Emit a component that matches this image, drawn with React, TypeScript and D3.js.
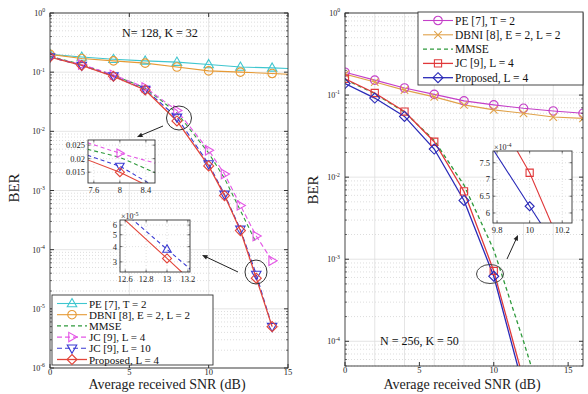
import * as d3 from "d3";

const FONT = "'Liberation Serif', 'Times New Roman', serif";

// ---------- left panel: N = 128, K = 32
const snrFlatL = [0, 2, 4, 6, 8, 10, 12, 14, 15];
const peL = [0.2, 0.18, 0.165, 0.155, 0.148, 0.135, 0.122, 0.118, 0.115];
const dbniL = [0.2, 0.17, 0.155, 0.142, 0.122, 0.105, 0.1, 0.095, 0.092];
const snrFallL = [0, 2, 4, 6, 8, 10, 11, 12, 13, 14];
const mmseL = [0.185, 0.135, 0.089, 0.054, 0.0205, 0.0043, 0.0016, 0.00046, 0.00013];
const jc4L = [0.18, 0.135, 0.09, 0.055, 0.0225, 0.0048, 0.0019, 0.00056, 0.00017, 0.000065];
const jc10L = [0.18, 0.13, 0.086, 0.051, 0.0172, 0.0028, 0.00086, 0.00022, 0.000038, 0.000005];
const propL = [0.18, 0.13, 0.085, 0.05, 0.015, 0.0026, 0.00082, 0.00021, 0.000033, 0.000005];

// zoom box around 8 dB
const snrInsA = [7.5, 8, 8.55];
const jc4InsA = [0.0259, 0.022, 0.0183];
const mmseInsA = [0.0235, 0.0205, 0.0147];
const jc10InsA = [0.0213, 0.0172, 0.0095];
const propInsA = [0.0196, 0.015, 0.0085];

// zoom box around 13 dB (x 1e-5)
const snrInsBJc = [12.6, 13, 13.25];
const jc10InsB = [7.5, 3.8, 2.5];
const snrInsBProp = [12.55, 13, 13.25];
const propInsB = [7.2, 3.2, 2.03];

// ---------- right panel: N = 256, K = 50
const snrFlatR = [0, 2, 4, 6, 8, 10, 12, 14, 16];
const peR = [0.19, 0.152, 0.122, 0.102, 0.085, 0.076, 0.069, 0.064, 0.06];
const dbniR = [0.18, 0.144, 0.115, 0.095, 0.076, 0.066, 0.06, 0.054, 0.052];
const snrFallR = [0, 2, 4, 6, 8, 10, 12, 13];
const mmseR = [0.155, 0.104, 0.062, 0.028, 0.008, 0.0013, 0.0001, 0.000026];
const jcR = [0.158, 0.106, 0.063, 0.027, 0.0067, 0.00072, 0.000034];
const propR = [0.138, 0.092, 0.055, 0.022, 0.0052, 0.00062, 0.000027];

// zoom box around 10 dB (x 1e-4)
const snrInsCProp = [9.75, 10, 10.1];
const propInsC = [8.09, 6.2, 5.45];
const snrInsCJc = [9.9, 10, 10.15];
const jcInsC = [8.05, 7.2, 5.5];

type Mk = "^" | "v" | ">" | "o" | "d" | "s" | "x" | "";
type Series = {
  name: string;
  xs: number[];
  ys: number[];
  color: string;
  dash?: string;
  mk: Mk;
  r?: number;
  w?: number;
  markMax?: number;
  markAt?: number[];
};
type Box = { l: number; r: number; t: number; b: number };

const C = {
  cyan: "#3fc6cf",
  orange: "#e69a35",
  green: "#2f9a3c",
  pink: "#e457e6",
  blue: "#3a3ad2",
  red: "#e2453a",
  magenta: "#c43fc8",
  tan: "#e0a24a",
  redR: "#e0383a",
  blueR: "#2a2ab8",
};

const seriesL: Series[] = [
  { name: "PE [7], T = 2", xs: snrFlatL, ys: peL, color: C.cyan, mk: "^", markMax: 14 },
  { name: "DBNI [8], E = 2, L = 2", xs: snrFlatL, ys: dbniL, color: C.orange, mk: "o", markMax: 14 },
  { name: "MMSE", xs: snrFallL, ys: mmseL, color: C.green, dash: "4,3", mk: "" },
  { name: "JC [9], L = 4", xs: snrFallL, ys: jc4L, color: C.pink, dash: "5,3", mk: ">" },
  { name: "JC [9],  L =  10", xs: snrFallL, ys: jc10L, color: C.blue, dash: "5,3", mk: "v" },
  { name: "Proposed, L = 4", xs: snrFallL, ys: propL, color: C.red, mk: "d", w: 1.3 },
];

const seriesR: Series[] = [
  { name: "PE [7], T = 2", xs: snrFlatR, ys: peR, color: C.magenta, mk: "o" },
  { name: "DBNI [8], E = 2, L = 2", xs: snrFlatR, ys: dbniR, color: C.tan, mk: "x" },
  { name: "MMSE", xs: snrFallR, ys: mmseR, color: C.green, dash: "4,3", mk: "", w: 1.3 },
  { name: "JC [9], L = 4", xs: snrFallR, ys: jcR, color: C.redR, mk: "s", markMax: 10, w: 1.3 },
  { name: "Proposed, L = 4", xs: snrFallR, ys: propR, color: C.blueR, mk: "d", markMax: 10, w: 1.3 },
];

function markerD(kind: Mk, r: number) {
  const p = d3.path();
  if (kind === "^") {
    p.moveTo(0, -r); p.lineTo(r * 0.95, r * 0.65); p.lineTo(-r * 0.95, r * 0.65); p.closePath();
  } else if (kind === "v") {
    p.moveTo(0, r); p.lineTo(r * 0.95, -r * 0.65); p.lineTo(-r * 0.95, -r * 0.65); p.closePath();
  } else if (kind === ">") {
    p.moveTo(r, 0); p.lineTo(-r * 0.65, -r * 0.95); p.lineTo(-r * 0.65, r * 0.95); p.closePath();
  } else if (kind === "d") {
    p.moveTo(0, -r); p.lineTo(r, 0); p.lineTo(0, r); p.lineTo(-r, 0); p.closePath();
  } else if (kind === "s") {
    p.rect(-r * 0.72, -r * 0.72, r * 1.44, r * 1.44);
  } else if (kind === "o") {
    p.moveTo(r * 0.85, 0); p.arc(0, 0, r * 0.85, 0, 2 * Math.PI);
  } else if (kind === "x") {
    const k = r * 0.75;
    p.moveTo(-k, -k); p.lineTo(k, k); p.moveTo(-k, k); p.lineTo(k, -k);
  }
  return p.toString();
}

function Pow({ x, y, e, anchor = "end", fs = 8 }: { x: number; y: number; e: number; anchor?: string; fs?: number }) {
  return (
    <text x={x} y={y} textAnchor={anchor} fontSize={fs} fontFamily={FONT} fill="#222">
      10<tspan dy={-fs * 0.45} fontSize={fs * 0.72}>{e}</tspan>
    </text>
  );
}

function Lines({ s, x, y, clip }: { s: Series[]; x: any; y: any; clip: string }) {
  return (
    <g clipPath={`url(#${clip})`}>
      {s.map((d) => {
        const pts = d.ys.map((v, i) => [d.xs[i], v] as [number, number]);
        const gen = d3
          .line<[number, number]>()
          .x((p: [number, number]) => x(p[0]))
          .y((p: [number, number]) => y(p[1]));
        return (
          <path key={d.name} d={gen(pts) || ""} fill="none" stroke={d.color} strokeWidth={d.w ?? 1.1} strokeDasharray={d.dash} />
        );
      })}
      {s.map((d) =>
        d.mk
          ? d.ys.map((v, i) => {
              const sx = d.xs[i];
              if (d.markMax !== undefined && sx > d.markMax) return null;
              if (d.markAt && !d.markAt.includes(sx)) return null;
              return (
                <path
                  key={d.name + i}
                  d={markerD(d.mk, d.r ?? 5)}
                  transform={`translate(${x(sx)},${y(v)})`}
                  fill="none"
                  stroke={d.color}
                  strokeWidth={1.1}
                />
              );
            })
          : null
      )}
    </g>
  );
}

function logMinors(lo: number, hi: number) {
  const out: number[] = [];
  for (let e = Math.floor(Math.log10(lo)); e < Math.ceil(Math.log10(hi)); e++) {
    for (let k = 2; k <= 9; k++) {
      const v = k * Math.pow(10, e);
      if (v >= lo && v <= hi) out.push(v);
    }
  }
  return out;
}

function Panel({
  id, box, xDom, yDom, xTicks, xGrid, series, labelX, labelY,
}: {
  id: string; box: Box; xDom: number[]; yDom: number[]; xTicks: number[]; xGrid: number[]; series: Series[]; labelX: number; labelY: number;
}) {
  const x = d3.scaleLinear().domain(xDom).range([box.l, box.r]);
  const y = d3.scaleLog().domain(yDom).range([box.b, box.t]);
  const exps = d3.range(Math.ceil(Math.log10(yDom[0])), 1);
  const minors = logMinors(yDom[0], yDom[1]);
  return (
    <g>
      <defs>
        <clipPath id={id}>
          <rect x={box.l} y={box.t} width={box.r - box.l} height={box.b - box.t} />
        </clipPath>
      </defs>
      <rect x={box.l} y={box.t} width={box.r - box.l} height={box.b - box.t} fill="#fff" />
      {minors.map((v) => (
        <line key={"mg" + v} x1={box.l} x2={box.r} y1={y(v)} y2={y(v)} stroke="#cfcfcf" strokeWidth={0.7} strokeDasharray="1,2" />
      ))}
      {exps.map((e) => (
        <line key={"Mg" + e} x1={box.l} x2={box.r} y1={y(Math.pow(10, e))} y2={y(Math.pow(10, e))} stroke="#dedede" strokeWidth={0.8} />
      ))}
      {xGrid.map((v) => (
        <line key={"xg" + v} x1={x(v)} x2={x(v)} y1={box.t} y2={box.b} stroke="#dedede" strokeWidth={0.8} />
      ))}
      <Lines s={series} x={x} y={y} clip={id} />
      <rect x={box.l} y={box.t} width={box.r - box.l} height={box.b - box.t} fill="none" stroke="#333" strokeWidth={0.9} />
      {exps.map((e) => (
        <g key={"yt" + e}>
          <line x1={box.l} x2={box.l + 4} y1={y(Math.pow(10, e))} y2={y(Math.pow(10, e))} stroke="#333" />
          <line x1={box.r} x2={box.r - 4} y1={y(Math.pow(10, e))} y2={y(Math.pow(10, e))} stroke="#333" />
          <Pow x={box.l - 5} y={y(Math.pow(10, e)) + 3} e={e} />
        </g>
      ))}
      {minors.map((v) => (
        <g key={"mt" + v}>
          <line x1={box.l} x2={box.l + 2} y1={y(v)} y2={y(v)} stroke="#333" strokeWidth={0.7} />
          <line x1={box.r} x2={box.r - 2} y1={y(v)} y2={y(v)} stroke="#333" strokeWidth={0.7} />
        </g>
      ))}
      {xTicks.map((v) => (
        <g key={"xt" + v}>
          <line x1={x(v)} x2={x(v)} y1={box.b} y2={box.b - 4} stroke="#333" />
          <line x1={x(v)} x2={x(v)} y1={box.t} y2={box.t + 4} stroke="#333" />
          <text x={x(v)} y={box.b + 7} textAnchor="middle" fontSize={8.5} fontFamily={FONT} fill="#222">
            {v}
          </text>
        </g>
      ))}
      <text
        x={(box.l + box.r) / 2 - 2}
        y={389}
        textAnchor="middle"
        fontSize={14}
        fontFamily={FONT}
        fill="#222"
      >
        Average received SNR (dB)
      </text>
      <text
        transform={`translate(${labelX},${labelY}) rotate(-90)`}
        textAnchor="middle"
        fontSize={15}
        fontFamily={FONT}
        fill="#222"
      >
        BER
      </text>
    </g>
  );
}

function Inset({
  id, box, xDom, yDom, log, xTicks, yTicks, series, expo,
}: {
  id: string; box: Box; xDom: number[]; yDom: number[]; log?: boolean; xTicks: number[]; yTicks: number[]; series: Series[]; expo?: number;
}) {
  const x = d3.scaleLinear().domain(xDom).range([box.l, box.r]);
  const y = (log ? d3.scaleLog() : d3.scaleLinear()).domain(yDom).range([box.b, box.t]);
  return (
    <g>
      <defs>
        <clipPath id={id}>
          <rect x={box.l} y={box.t} width={box.r - box.l} height={box.b - box.t} />
        </clipPath>
      </defs>
      <rect x={box.l} y={box.t} width={box.r - box.l} height={box.b - box.t} fill="#fff" />
      {yTicks.map((v) => (
        <line key={"g" + v} x1={box.l} x2={box.r} y1={y(v)} y2={y(v)} stroke="#d4d4d4" strokeWidth={0.7} strokeDasharray="1,2" />
      ))}
      {xTicks.map((v) => (
        <line key={"gx" + v} x1={x(v)} x2={x(v)} y1={box.t} y2={box.b} stroke="#d4d4d4" strokeWidth={0.7} strokeDasharray="1,2" />
      ))}
      <Lines s={series} x={x} y={y} clip={id} />
      <rect x={box.l} y={box.t} width={box.r - box.l} height={box.b - box.t} fill="none" stroke="#333" strokeWidth={0.9} />
      {yTicks.map((v) => (
        <g key={"t" + v}>
          <line x1={box.l} x2={box.l + 2.5} y1={y(v)} y2={y(v)} stroke="#333" strokeWidth={0.7} />
          <line x1={box.r} x2={box.r - 2.5} y1={y(v)} y2={y(v)} stroke="#333" strokeWidth={0.7} />
          <text x={box.l - 3} y={y(v) + 3} textAnchor="end" fontSize={8.5} fontFamily={FONT} fill="#222">
            {v}
          </text>
        </g>
      ))}
      {xTicks.map((v) => (
        <g key={"tx" + v}>
          <line x1={x(v)} x2={x(v)} y1={box.b} y2={box.b - 2.5} stroke="#333" strokeWidth={0.7} />
          <line x1={x(v)} x2={x(v)} y1={box.t} y2={box.t + 2.5} stroke="#333" strokeWidth={0.7} />
          <text x={x(v)} y={box.b + 10} textAnchor="middle" fontSize={8.5} fontFamily={FONT} fill="#222">
            {v}
          </text>
        </g>
      ))}
      {expo !== undefined && (
        <text x={box.l + 1} y={box.t - 1} fontSize={8} fontFamily={FONT} fill="#222">
          ×10<tspan dy={-3} fontSize={6}>{expo}</tspan>
        </text>
      )}
    </g>
  );
}

function Legend({ box, series, step, fs }: { box: Box; series: Series[]; step: number; fs: number }) {
  return (
    <g>
      <rect x={box.l} y={box.t} width={box.r - box.l} height={box.b - box.t} fill="#fff" stroke="#333" strokeWidth={0.9} />
      {series.map((s, i) => {
        const cy = box.t + 8.5 + i * step;
        const x0 = box.l + 5;
        const x1 = box.l + 35;
        return (
          <g key={s.name}>
            <line x1={x0} x2={x1} y1={cy} y2={cy} stroke={s.color} strokeWidth={s.w ?? 1.1} strokeDasharray={s.dash} />
            {s.mk && (
              <path d={markerD(s.mk, s.r ?? 5)} transform={`translate(${(x0 + x1) / 2},${cy})`} fill="none" stroke={s.color} strokeWidth={1.1} />
            )}
            <text x={x1 + 2} y={cy + 4} fontSize={fs} fontFamily={FONT} fill="#111">
              {s.name}
            </text>
          </g>
        );
      })}
    </g>
  );
}

function Arrow({ x1, y1, x2, y2 }: { x1: number; y1: number; x2: number; y2: number }) {
  const a = Math.atan2(y2 - y1, x2 - x1);
  const L = 6;
  const p = d3.path();
  p.moveTo(x2, y2);
  p.lineTo(x2 - L * Math.cos(a - 0.4), y2 - L * Math.sin(a - 0.4));
  p.lineTo(x2 - L * Math.cos(a + 0.4), y2 - L * Math.sin(a + 0.4));
  p.closePath();
  return (
    <g>
      <line x1={x1} y1={y1} x2={x2 - 3 * Math.cos(a)} y2={y2 - 3 * Math.sin(a)} stroke="#222" strokeWidth={1} />
      <path d={p.toString()} fill="#222" />
    </g>
  );
}

export default function App() {
  const boxL: Box = { l: 50, r: 288, t: 13, b: 368 };
  const boxR: Box = { l: 345, r: 583, t: 13, b: 366 };

  const insA: Series[] = [
    { name: "a1", xs: snrInsA, ys: jc4InsA, color: C.pink, dash: "4,3", mk: ">", markAt: [8], r: 4.5 },
    { name: "a2", xs: snrInsA, ys: mmseInsA, color: C.green, dash: "4,3", mk: "" },
    { name: "a3", xs: snrInsA, ys: jc10InsA, color: C.blue, dash: "4,3", mk: "v", markAt: [8], r: 4.5 },
    { name: "a4", xs: snrInsA, ys: propInsA, color: C.red, mk: "d", markAt: [8], r: 4.5 },
  ];
  const insB: Series[] = [
    { name: "b1", xs: snrInsBJc, ys: jc10InsB, color: C.blue, dash: "4,3", mk: "^", markAt: [13], r: 4.5 },
    { name: "b2", xs: snrInsBProp, ys: propInsB, color: C.red, mk: "d", markAt: [13], r: 4.5 },
  ];
  const insC: Series[] = [
    { name: "c1", xs: snrInsCProp, ys: propInsC, color: C.blueR, mk: "d", markAt: [10], r: 4.5 },
    { name: "c2", xs: snrInsCJc, ys: jcInsC, color: C.redR, mk: "s", markAt: [10], r: 5 },
  ];

  return (
    <svg width={588} height={394} style={{ position: "absolute", left: 0, top: 0, background: "#fff" }}>
      <Panel id="cl" box={boxL} xDom={[0, 15]} yDom={[1e-6, 1]} xTicks={[0, 5, 10, 15]} xGrid={[5, 10]} series={seriesL} labelX={19} labelY={188} />
      <Panel id="cr" box={boxR} xDom={[0, 16]} yDom={[5e-5, 1]} xTicks={[0, 5, 10, 15]} xGrid={d3.range(2, 16, 2)} series={seriesR} labelX={318} labelY={190} />

      <text x={122} y={37} fontSize={12} fontFamily={FONT} fill="#111">N= 128, K = 32</text>
      <text x={380} y={345} fontSize={12} fontFamily={FONT} fill="#111">N = 256, K = 50</text>

      <ellipse cx={179} cy={118} rx={12.5} ry={12} fill="none" stroke="#333" strokeWidth={1} />
      <ellipse cx={256} cy={272} rx={11} ry={12} fill="none" stroke="#333" strokeWidth={1} />
      <ellipse cx={490} cy={274} rx={13.5} ry={9.5} fill="none" stroke="#444" strokeWidth={1} />
      <Arrow x1={163} y1={126} x2={137} y2={137} />
      <Arrow x1={238} y1={272} x2={202} y2={255} />
      <Arrow x1={507} y1={259} x2={518} y2={235} />

      <Inset id="ia" box={{ l: 88, r: 155, t: 140, b: 183 }} xDom={[7.51, 8.54]} yDom={[0.011, 0.0269]} xTicks={[7.6, 8, 8.4]} yTicks={[0.015, 0.02, 0.025]} series={insA} />
      <Inset id="ib" box={{ l: 120, r: 190, t: 220, b: 272 }} xDom={[12.55, 13.22]} yDom={[2.48, 6.6]} log xTicks={[12.6, 12.8, 13, 13.2]} yTicks={[3, 4, 5, 6]} series={insB} expo={-5} />
      <Inset id="ic" box={{ l: 493, r: 572, t: 151, b: 223 }} xDom={[9.775, 10.26]} yDom={[5.7, 7.85]} xTicks={[9.8, 10, 10.2]} yTicks={[6, 6.5, 7, 7.5]} series={insC} expo={-4} />

      <Legend box={{ l: 52, r: 213, t: 295, b: 365 }} series={seriesL} step={11.2} fs={11} />
      <Legend box={{ l: 418, r: 583, t: 12, b: 85 }} series={seriesR} step={14.3} fs={11.5} />
    </svg>
  );
}
